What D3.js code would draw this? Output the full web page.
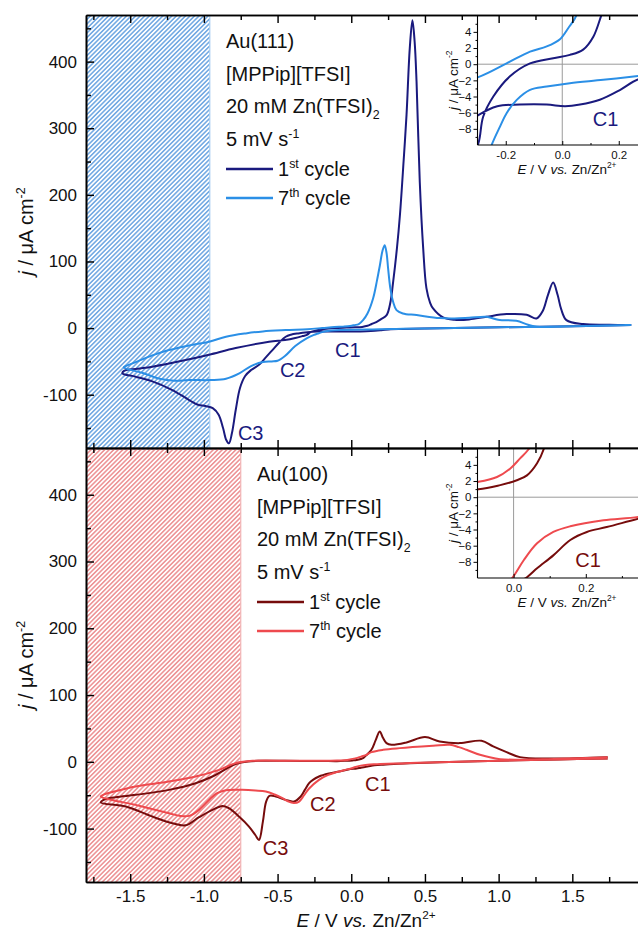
<!DOCTYPE html>
<html>
<head>
<meta charset="utf-8">
<script src="https://cdn.jsdelivr.net/npm/d3@7.9.0/dist/d3.min.js"></script>
<style>
  body { margin: 0; background: #fff; }
  svg { display: block; font-family: "Liberation Sans", Arial, sans-serif; }
</style>
</head>
<body>
<svg id="chart" width="638" height="935"></svg>
<script>
// CV loops, [E (V vs. Zn/Zn2+), j (uA cm-2)] in sweep order
const au111Cycle1 = [
  [1.90, 4.5], [1.6, 3.2], [1.3, 2.2], [1.0, 1.2], [0.7, 0.2], [0.5, -0.6], [0.35, -1.4],
  [0.268, -1.9], [0.204, -3.2], [0.133, -4.4], [0.063, -5.0], [0.01, -5.2], [-0.055, -5.0],
  [-0.15, -5.0], [-0.23, -5.2], [-0.297, -6.3], [-0.36, -8], [-0.41, -10], [-0.445, -13],
  [-0.49, -22], [-0.535, -33], [-0.58, -44], [-0.626, -55], [-0.68, -63], [-0.72, -72],
  [-0.755, -90], [-0.784, -123], [-0.81, -158], [-0.83, -173], [-0.848, -168], [-0.87, -150],
  [-0.90, -130], [-0.94, -120], [-0.99, -117], [-1.04, -115], [-1.10, -108], [-1.214, -93],
  [-1.35, -80], [-1.463, -73], [-1.553, -68],
  [-1.54, -64], [-1.45, -61], [-1.35, -58], [-1.124, -48], [-0.965, -40], [-0.784, -30],
  [-0.558, -20.5], [-0.45, -18], [-0.38, -15], [-0.33, -12], [-0.297, -9.8], [-0.28, -6.5],
  [-0.244, -4.0], [-0.185, -1.5], [-0.114, 0.1], [-0.032, 0.74], [0.027, 1.15], [0.074, 1.8],
  [0.11, 3.4], [0.139, 6.1], [0.17, 9], [0.2, 13], [0.24, 19.5], [0.265, 38], [0.284, 69],
  [0.31, 120], [0.33, 169], [0.355, 250], [0.375, 320], [0.397, 420], [0.415, 462], [0.43, 430],
  [0.443, 370], [0.465, 219], [0.488, 120], [0.51, 60], [0.535, 38], [0.555, 29.5], [0.623, 16],
  [0.7, 12.5], [0.8, 13], [0.918, 17], [1.054, 21], [1.19, 20], [1.257, 14.5], [1.30, 26],
  [1.335, 50], [1.37, 68.5], [1.40, 50], [1.425, 28], [1.46, 12], [1.574, 6], [1.75, 5], [1.90, 4.5]
];
const au111Cycle7 = [
  [1.90, 4.5], [1.6, 3.2], [1.3, 2.2], [1.0, 1.2], [0.7, 0.2], [0.5, -0.5], [0.35, -1.1],
  [0.268, -1.45], [0.145, -1.94], [0.027, -2.36], [-0.055, -2.77], [-0.114, -3.18],
  [-0.161, -4.42], [-0.197, -6.06], [-0.22, -7.7], [-0.25, -10], [-0.30, -15], [-0.38, -27],
  [-0.45, -42], [-0.50, -49], [-0.54, -50], [-0.6, -51], [-0.68, -57], [-0.76, -68],
  [-0.85, -76], [-0.95, -78], [-1.1, -78], [-1.2, -79], [-1.3, -76], [-1.42, -67], [-1.545, -59],
  [-1.52, -56], [-1.45, -50], [-1.35, -41], [-1.237, -33], [-1.1, -26], [-0.965, -20.5],
  [-0.85, -13], [-0.716, -8], [-0.6, -5], [-0.445, -3], [-0.297, -1.6], [-0.197, 0.1],
  [-0.114, 1.56], [-0.055, 2.2], [-0.008, 3.1], [0.021, 4.45], [0.051, 6.1], [0.08, 12],
  [0.11, 22], [0.148, 44.5], [0.175, 72], [0.194, 94], [0.212, 116], [0.227, 124.5], [0.24, 112],
  [0.25, 89.5], [0.265, 60], [0.284, 39.5], [0.307, 27], [0.35, 22], [0.443, 19.5], [0.6, 15],
  [0.7, 14.5], [0.8, 15.5], [0.918, 17], [0.97, 14], [1.008, 12], [1.12, 11], [1.2, 5],
  [1.26, 2], [1.46, 2.5], [1.7, 3.5], [1.90, 4.5]
];
const au100Cycle1 = [
  [1.74, 5], [1.4, 3.5], [1.0, 1.5], [0.6, -0.5], [0.45, -1.6], [0.36, -2.5], [0.258, -3.7],
  [0.203, -4.3], [0.157, -5.3], [0.11, -7.2], [0.065, -8.8], [0.037, -9.9], [-0.02, -11.5],
  [-0.083, -14.5], [-0.15, -17.5], [-0.219, -22], [-0.26, -27], [-0.286, -32], [-0.315, -42],
  [-0.343, -52], [-0.388, -59.5], [-0.445, -57], [-0.512, -52], [-0.555, -51], [-0.578, -60],
  [-0.60, -90], [-0.626, -117], [-0.65, -110], [-0.694, -97], [-0.762, -82], [-0.83, -69.5],
  [-0.874, -66], [-0.942, -72], [-1.033, -83], [-1.124, -95], [-1.214, -92], [-1.35, -82],
  [-1.53, -67], [-1.70, -61],
  [-1.68, -57], [-1.6, -53], [-1.463, -49.5], [-1.237, -42], [-1.056, -32], [-0.942, -22],
  [-0.852, -11], [-0.78, -3], [-0.7, 0.5], [-0.626, 1.5], [-0.45, 1.5], [-0.2, 1.2],
  [-0.097, 0.99], [-0.037, 1.49], [0.009, 2.1], [0.037, 2.7], [0.065, 4.2], [0.083, 5.9],
  [0.103, 10], [0.137, 18], [0.165, 32], [0.193, 45.5], [0.215, 36], [0.239, 28], [0.273, 25.5],
  [0.375, 29], [0.5, 37], [0.6, 30.5], [0.737, 28], [0.884, 31.5], [0.963, 23], [1.054, 14.5],
  [1.144, 7], [1.35, 5], [1.74, 7]
];
const au100Cycle7 = [
  [1.74, 5], [1.4, 3.5], [1.0, 1.5], [0.6, -0.5], [0.45, -1.5], [0.345, -2.44], [0.249, -2.85],
  [0.157, -3.6], [0.11, -4.3], [0.065, -5.7], [0.028, -7.8], [-0.002, -9.9], [-0.05, -12.5],
  [-0.1, -15.5], [-0.16, -20], [-0.219, -27], [-0.286, -40], [-0.32, -50], [-0.354, -59.5],
  [-0.39, -61.5], [-0.43, -59], [-0.467, -54.5], [-0.52, -49], [-0.58, -44.5], [-0.65, -43],
  [-0.739, -42], [-0.852, -42.5], [-0.91, -47], [-0.96, -56], [-1.033, -72], [-1.10, -81],
  [-1.16, -81], [-1.237, -77], [-1.463, -64.5], [-1.70, -52],
  [-1.68, -49], [-1.6, -44], [-1.463, -37], [-1.237, -29.5], [-1.056, -22], [-0.897, -12],
  [-0.784, -2], [-0.67, 1.5], [-0.4, 1.5], [-0.2, 1.5], [-0.097, 1.9], [-0.046, 2.5],
  [-0.009, 3.55], [0.018, 4.8], [0.041, 5.9], [0.07, 8], [0.103, 10.5], [0.137, 14.5],
  [0.216, 18], [0.33, 20.5], [0.555, 24], [0.669, 25.5], [0.73, 22], [0.782, 18], [0.873, 10.5],
  [1.01, 4], [1.3, 4], [1.74, 7]
];

// axes
const xDomain = [-1.8, 2.0];
const yDomain = [-180, 470];
const xMajor = [-1.5, -1.0, -0.5, 0.0, 0.5, 1.0, 1.5];
const xMinor = [-1.75, -1.25, -0.75, -0.25, 0.25, 0.75, 1.25, 1.75];
const yMajor = [-100, 0, 100, 200, 300, 400];
const yMinor = [-150, -50, 50, 150, 250, 350, 450];
const insetY = [-8, -6, -4, -2, 0, 2, 4];
const insetYMinor = [-9, -7, -5, -3, -1, 1, 3, 5];

const svg = d3.select('#chart');
const defs = svg.append('defs');
const xMain = d3.scaleLinear().domain(xDomain).range([86, 646]);

const panels = [
  {
    id: 'au111', top: 15, bottom: 448, hatchTo: -0.96,
    dark: '#1a1a7e', light: '#2b8fe6', hatch: '#4f93db', hatchEdge: '#a9cff2',
    cycles: [au111Cycle1, au111Cycle7], surface: 'Au(111)', textX: 226,
    peaks: [['C1', -0.11, -43], ['C2', -0.484, -73], ['C3', -0.769, -168]],
    inset: { x: [-0.3, 0.3], right: 647, xTicks: [-0.2, 0, 0.2], xMinor: [-0.1, 0.1], peak: ['C1', 0.108, -7.6] },
    xLabels: false
  },
  {
    id: 'au100', top: 448, bottom: 882, hatchTo: -0.75,
    dark: '#760c0c', light: '#ee4a4e', hatch: '#e8787b', hatchEdge: '#f2b4b5',
    cycles: [au100Cycle1, au100Cycle7], surface: 'Au(100)', textX: 257,
    peaks: [['C1', 0.093, -43], ['C2', -0.28, -73], ['C3', -0.60, -139]],
    inset: { x: [-0.1, 0.4], right: 658, xTicks: [0, 0.2], xMinor: [0.1, 0.3], peak: ['C1', 0.171, -8.7] },
    xLabels: true
  }
];

function rich(sel, parts, size) {
  let shift = 0;
  parts.forEach(([t, k]) => {
    const ts = sel.append('tspan').text(t);
    const target = k === 'sup' ? -0.42 * size : k === 'sub' ? 0.28 * size : 0;
    if (target !== shift) ts.attr('dy', target - shift);
    shift = target;
    if (k === 'sup' || k === 'sub') ts.attr('font-size', size * 0.62);
    if (k === 'i') ts.attr('font-style', 'italic');
  });
  return sel;
}

function axis(g, gen, tr, size, width) {
  const a = g.append('g').attr('transform', tr).call(gen);
  a.attr('font-family', null).attr('font-size', size);
  a.select('.domain').attr('stroke-width', width);
  a.selectAll('.tick line').attr('stroke-width', width * 0.9);
  a.selectAll('.tick text').attr('fill', '#111');
  return a;
}

const fmt1 = d => d.toFixed(1);

panels.forEach(p => {
  const y = d3.scaleLinear().domain(yDomain).range([p.bottom, p.top]);
  const g = svg.append('g');

  // hatched window
  const pat = defs.append('pattern').attr('id', p.id + '-hatch')
    .attr('patternUnits', 'userSpaceOnUse').attr('width', 3.2).attr('height', 3.2)
    .attr('patternTransform', 'rotate(45)');
  pat.append('line').attr('x1', 1.6).attr('x2', 1.6).attr('y1', 0).attr('y2', 3.2)
    .attr('stroke', p.hatch).attr('stroke-width', 1.25);
  g.append('rect').attr('x', xMain(xDomain[0])).attr('y', p.top)
    .attr('width', xMain(p.hatchTo) - xMain(xDomain[0])).attr('height', p.bottom - p.top)
    .attr('fill', `url(#${p.id}-hatch)`);
  g.append('line').attr('x1', xMain(p.hatchTo)).attr('x2', xMain(p.hatchTo))
    .attr('y1', p.top).attr('y2', p.bottom).attr('stroke', p.hatchEdge).attr('stroke-width', 1.2);

  // main curves
  const line = d3.line().x(d => xMain(d[0])).y(d => y(d[1])).curve(d3.curveCatmullRom.alpha(0.5));
  p.cycles.forEach((c, i) => {
    g.append('path').attr('d', line(c)).attr('fill', 'none')
      .attr('stroke', i ? p.light : p.dark).attr('stroke-width', 2);
  });

  // peak labels
  p.peaks.forEach(([t, e, j]) => {
    g.append('text').attr('x', xMain(e)).attr('y', y(j)).attr('font-size', 20)
      .attr('fill', p.dark).text(t);
  });

  // inset
  const inTop = p.top + 0.7, inBottom = p.top + 130;
  const xi = d3.scaleLinear().domain(p.inset.x).range([477.5, p.inset.right]);
  const yi = d3.scaleLinear().domain([-10, 6]).range([inBottom, inTop]);
  defs.append('clipPath').attr('id', p.id + '-clip').append('rect')
    .attr('x', 477.5).attr('y', inTop).attr('width', 646 - 477.5).attr('height', inBottom - inTop);
  const ig = g.append('g');
  ig.append('rect').attr('x', 477.5).attr('y', inTop).attr('width', 646 - 477.5)
    .attr('height', inBottom - inTop).attr('fill', '#fff');
  ig.append('line').attr('x1', xi(0)).attr('x2', xi(0)).attr('y1', inTop).attr('y2', inBottom)
    .attr('stroke', '#9a9a9a').attr('stroke-width', 1);
  ig.append('line').attr('x1', 477.5).attr('x2', 646).attr('y1', yi(0)).attr('y2', yi(0))
    .attr('stroke', '#9a9a9a').attr('stroke-width', 1);
  const iline = d3.line().x(d => xi(d[0])).y(d => yi(d[1])).curve(d3.curveCatmullRom.alpha(0.5));
  const ic = ig.append('g').attr('clip-path', `url(#${p.id}-clip)`);
  p.cycles.forEach((c, i) => {
    ic.append('path').attr('d', iline(c)).attr('fill', 'none')
      .attr('stroke', i ? p.light : p.dark).attr('stroke-width', 2);
  });
  axis(ig, d3.axisLeft(yi).tickValues(insetY).tickSize(4).tickPadding(2).tickSizeOuter(0),
    'translate(477.5,0)', 11.5, 1.1).select('.domain').attr('d', `M0,${inTop}V${inBottom}`);
  axis(ig, d3.axisLeft(yi).tickValues(insetYMinor).tickSize(2).tickFormat('').tickSizeOuter(0),
    'translate(477.5,0)', 11.5, 1.1).select('.domain').remove();
  axis(ig, d3.axisBottom(xi).tickValues(p.inset.xTicks).tickSize(-4).tickPadding(6).tickFormat(fmt1).tickSizeOuter(0),
    `translate(0,${inBottom})`, 11.5, 1.1).select('.domain').attr('d', 'M477.5,0H646');
  axis(ig, d3.axisBottom(xi).tickValues(p.inset.xMinor).tickSize(-2).tickFormat('').tickSizeOuter(0),
    `translate(0,${inBottom})`, 11.5, 1.1).select('.domain').remove();
  ig.append('text').attr('x', xi(p.inset.peak[1])).attr('y', yi(p.inset.peak[2]))
    .attr('font-size', 20).attr('fill', p.dark).text(p.inset.peak[0]);
  rich(ig.append('text').attr('x', 567).attr('y', p.top + 159).attr('font-size', 13.5)
    .attr('text-anchor', 'middle').attr('fill', '#111'),
    [['E', 'i'], [' / V ', 'n'], ['vs.', 'i'], [' Zn/Zn', 'n'], ['2+', 'sup']], 13.5);
  rich(ig.append('text').attr('transform', `translate(458,${(inTop + inBottom) / 2}) rotate(-90)`)
    .attr('font-size', 13.5).attr('text-anchor', 'middle').attr('fill', '#111'),
    [['j', 'i'], [' / \u03bcA cm', 'n'], ['-2', 'sup']], 13.5);

  // description and legend
  const tx = p.textX, t0 = p.top + 33;
  const desc = [
    [['' + p.surface, 'n']],
    [['[MPPip][TFSI]', 'n']],
    [['20 mM Zn(TFSI)', 'n'], ['2', 'sub']],
    [['5 mV s', 'n'], ['-1', 'sup']]
  ];
  desc.forEach((parts, i) => {
    rich(g.append('text').attr('x', tx).attr('y', t0 + i * 32.7).attr('font-size', 20).attr('fill', '#111'), parts, 20);
  });
  const legend = [[['1', 'n'], ['st', 'sup'], [' cycle', 'n']], [['7', 'n'], ['th', 'sup'], [' cycle', 'n']]];
  legend.forEach((parts, i) => {
    const ly = p.top + 154 + i * 29;
    g.append('line').attr('x1', tx).attr('x2', tx + 47).attr('y1', ly).attr('y2', ly)
      .attr('stroke', i ? p.light : p.dark).attr('stroke-width', 2.5);
    rich(g.append('text').attr('x', tx + 52).attr('y', ly + 7).attr('font-size', 20).attr('fill', '#111'), parts, 20);
  });

  // y title
  rich(g.append('text').attr('transform', `translate(33,${(p.top + p.bottom) / 2}) rotate(-90)`)
    .attr('font-size', 20).attr('text-anchor', 'middle').attr('fill', '#111'),
    [['j', 'i'], [' / \u03bcA cm', 'n'], ['-2', 'sup']], 20);

  // frame axes
  const W = 1.6;
  axis(g, d3.axisLeft(y).tickValues(yMajor).tickSize(-8).tickPadding(9).tickSizeOuter(0).tickFormat(String),
    `translate(${xMain(xDomain[0])},0)`, 17, W);
  axis(g, d3.axisLeft(y).tickValues(yMinor).tickSize(-5).tickFormat('').tickSizeOuter(0),
    `translate(${xMain(xDomain[0])},0)`, 17, W);
  axis(g, d3.axisRight(y).tickValues(yMajor).tickSize(-8).tickFormat('').tickSizeOuter(0),
    `translate(${xMain(xDomain[1])},0)`, 17, W);
  axis(g, d3.axisRight(y).tickValues(yMinor).tickSize(-5).tickFormat('').tickSizeOuter(0),
    `translate(${xMain(xDomain[1])},0)`, 17, W);
  axis(g, d3.axisTop(xMain).tickValues(xMajor).tickSize(-8).tickFormat('').tickSizeOuter(0),
    `translate(0,${p.top})`, 17, W);
  axis(g, d3.axisTop(xMain).tickValues(xMinor).tickSize(-5).tickFormat('').tickSizeOuter(0),
    `translate(0,${p.top})`, 17, W);
  axis(g, d3.axisBottom(xMain).tickValues(xMajor).tickSize(-8).tickPadding(8).tickSizeOuter(0)
    .tickFormat(p.xLabels ? fmt1 : ''), `translate(0,${p.bottom})`, 17, W);
  axis(g, d3.axisBottom(xMain).tickValues(xMinor).tickSize(-5).tickFormat('').tickSizeOuter(0),
    `translate(0,${p.bottom})`, 17, W);
});

// x title
rich(svg.append('text').attr('x', 366).attr('y', 927).attr('font-size', 19)
  .attr('text-anchor', 'middle').attr('fill', '#111'),
  [['E', 'i'], [' / V ', 'n'], ['vs.', 'i'], [' Zn/Zn', 'n'], ['2+', 'sup']], 19);
</script>
</body>
</html>
